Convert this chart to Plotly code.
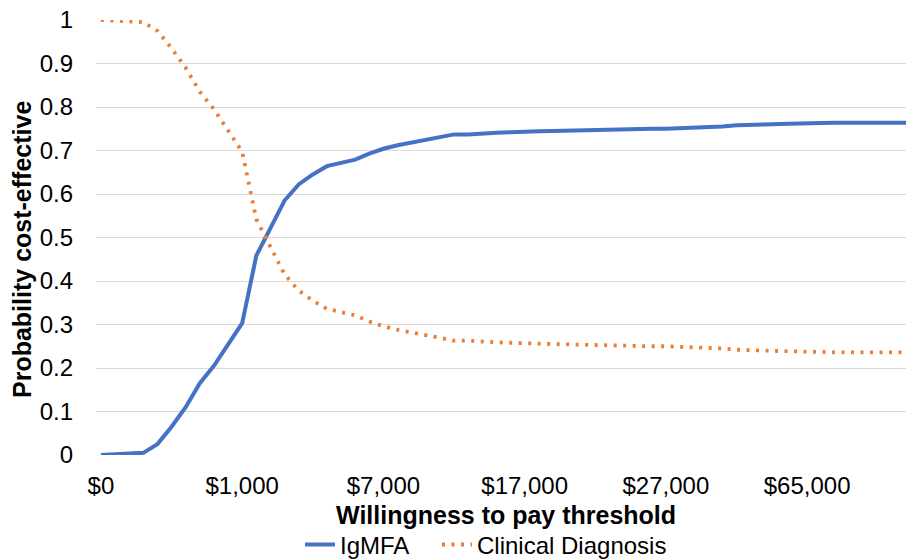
import plotly.graph_objects as go

# Willingness-to-pay thresholds (categories, evenly spaced on the axis)
wtp = ([i * 100 for i in range(0, 11)] +
       [1600, 2200, 2800, 3400, 4000, 4600, 5200, 5800, 6400, 7000] +
       [8000, 9000, 10000, 11000, 12000, 13000, 14000, 15000, 16000, 17000] +
       [18000, 19000, 20000, 21000, 22000, 23000, 24000, 25000, 26000, 27000] +
       [30800, 34600, 38400, 42200, 46000, 49800, 53600, 57400, 61200, 65000] +
       [70000, 75000, 80000, 85000, 90000, 95000, 100000])
categories = ["${:,}".format(v) for v in wtp]
tick_labels = ["$0", "$1,000", "$7,000", "$17,000", "$27,000", "$65,000"]

igmfa = [0.000, 0.001, 0.002, 0.005, 0.025, 0.065, 0.110, 0.165, 0.205, 0.255,
         0.303, 0.458, 0.522, 0.585, 0.622, 0.645, 0.664, 0.672, 0.679, 0.693,
         0.704, 0.712, 0.718, 0.724, 0.730, 0.737, 0.737, 0.740, 0.741, 0.742,
         0.742, 0.744, 0.745, 0.746, 0.747, 0.748, 0.749, 0.750, 0.750, 0.750,
         0.750, 0.751, 0.752, 0.753, 0.755, 0.758, 0.760, 0.760, 0.761, 0.761,
         0.762, 0.763, 0.764, 0.764, 0.764, 0.764, 0.764, 0.764]

clinical = [1.000, 0.999, 0.998, 0.995, 0.975, 0.935, 0.890, 0.835, 0.795, 0.745,
            0.697, 0.542, 0.478, 0.415, 0.378, 0.355, 0.336, 0.328, 0.321, 0.307,
            0.296, 0.288, 0.282, 0.276, 0.270, 0.263, 0.263, 0.260, 0.259, 0.258,
            0.258, 0.256, 0.255, 0.254, 0.253, 0.252, 0.251, 0.250, 0.250, 0.250,
            0.250, 0.249, 0.248, 0.247, 0.245, 0.242, 0.240, 0.240, 0.239, 0.239,
            0.238, 0.237, 0.236, 0.236, 0.236, 0.236, 0.236, 0.236]

y_ticks = [0, 0.1, 0.2, 0.3, 0.4, 0.5, 0.6, 0.7, 0.8, 0.9, 1]
y_tick_text = ["0", "0.1", "0.2", "0.3", "0.4", "0.5", "0.6", "0.7", "0.8", "0.9", "1"]

FONT = "Liberation Sans, Arial, sans-serif"
FS = 24

fig = go.Figure()
fig.add_trace(go.Scatter(x=categories, y=igmfa, mode="lines", name="IgMFA",
                         legend="legend",
                         line=dict(color="#4472C4", width=4)))
fig.add_trace(go.Scatter(x=categories, y=clinical, mode="lines", name="Clinical Diagnosis",
                         legend="legend2",
                         line=dict(color="#ED7D31", width=3.8, dash="3px,6.5px")))

legend_common = dict(orientation="h", xanchor="left", yanchor="top", y=-0.155,
                     font=dict(size=FS), bgcolor="rgba(0,0,0,0)")

fig.update_layout(
    width=906, height=559,
    margin=dict(l=96, r=0, t=20, b=104, autoexpand=False),
    paper_bgcolor="white", plot_bgcolor="white",
    font=dict(family=FONT, size=FS, color="#000000"),
    xaxis=dict(type="category", categoryorder="array", categoryarray=categories,
               range=[-0.35, len(categories) - 1],
               tickmode="array", tickvals=[categories[i] for i in (0, 10, 20, 30, 40, 50)],
               ticktext=tick_labels, showgrid=False, zeroline=False, showline=False,
               ticks="", ticklabelstandoff=14, tickfont=dict(size=FS)),
    yaxis=dict(range=[0, 1], tickmode="array", tickvals=y_ticks, ticktext=y_tick_text,
               showgrid=True, gridcolor="#D9D9D9", gridwidth=1, zeroline=False,
               showline=False, ticks="", ticklabelstandoff=22, tickfont=dict(size=FS)),
    legend=dict(x=(300 - 96) / 810, **legend_common),
    legend2=dict(x=(437 - 96) / 810, **legend_common),
    showlegend=True,
    annotations=[
        dict(text="<b>Willingness to pay threshold</b>", xref="paper", yref="paper",
             x=(506 - 96) / 810, y=(455 - 515) / 435, xanchor="center", yanchor="middle",
             showarrow=False, font=dict(size=FS + 1)),
        dict(text="<b>Probability cost-effective</b>", xref="paper", yref="paper",
             x=(22 - 96) / 810, y=(455 - 250) / 435, xanchor="center", yanchor="middle",
             textangle=-90, showarrow=False, font=dict(size=FS + 1)),
    ],
)

fig.write_html("out.html", config={"displayModeBar": False},
               post_script="document.body.style.margin='0';document.body.style.padding='0';")
